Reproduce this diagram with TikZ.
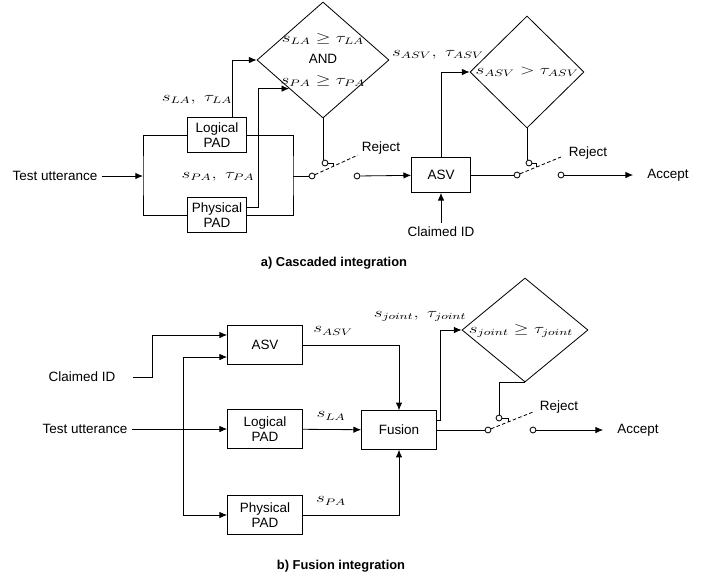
\documentclass[tikz,border=0pt]{standalone}
\usepackage{fontspec}
\setmainfont{Liberation Sans}
\usepackage{graphicx}
\usetikzlibrary{shapes.geometric,calc,arrows.meta}
\usetikzlibrary{positioning}
\newcommand{\wm}[1]{\scalebox{1.35}[1]{$#1$}}
\tikzset {
    block/.style = {draw, rectangle, minimum width=1.77cm, minimum height=1.05cm, align=center, inner sep=1pt},
    bigblock/.style = {block, minimum width=2.25cm, minimum height=1.16cm},
    decision/.style = {draw, diamond, inner sep=0pt},
    contact/.style = {draw, circle, fill=white, inner sep=0pt, minimum size=5pt},
    lever/.style = {densely dashed},
    caption/.style = {font=\fontsize{11}{13}\selectfont\bfseries}
}

\begin{document}
\begin{tikzpicture}[x=0.03cm, y=-0.03cm, >={Latex[length=6.5pt,width=5.5pt]}, line width=0.7pt, every node/.style={font=\fontsize{11.5}{13}\selectfont}]
	\useasboundingbox (0,0) rectangle (710,575);
	% a) cascaded
	\node (tu) at (55,176) {Test utterance};
	\coordinate (in1) at (143,176);
	\node[block] (la) at (217,135) {Logical\\PAD};
	\node[block] (pa) at (217,215) {Physical\\PAD};
	\node[decision, minimum width=3.96cm, minimum height=3.48cm] (d1) at (323,60) {};
	\node[align=center] (d1txt) at (d1) {\wm{s_{LA} \geq \tau_{LA}}\\[5pt]AND\\[5pt]\wm{s_{PA} \geq \tau_{PA}}};
	\coordinate (e1) at ($(d1.west)!0.49!(d1.south)$);
	\draw[->] (tu) -- (in1);
	\draw (la.west) -| (in1) |- (pa.west);
	\draw[->] ([xshift=0.47cm]la.north) |- (d1.west);
	\draw[->] ([yshift=0.24cm]pa.east) -- ++(11,0) |- (e1);
	\node (lbl1) at (197,100) {\wm{s_{LA},\; \tau_{LA}}};
	\node (lbl2) at (218,177) {\wm{s_{PA},\; \tau_{PA}}};
	\coordinate (j1) at (293,176);
	\draw (la.east) -| (j1) |- (pa.east);
	% switch 1
	\node[contact] (sw1l) at (312,176) {};
	\node[contact] (sw1r) at (357,176) {};
	\coordinate (lev1) at (358,155);
	\node[contact] (act1) at (325,163) {};
	\coordinate (h1) at ($(sw1l)!0.46!(lev1)$);
	\draw (j1) -- (sw1l);
	\draw[lever] (sw1l) -- (lev1);
	\draw (act1.east) -| (h1);
	\draw (d1.south) -- (d1.south |- act1.north);
	\node (rej1) at (381,148) {Reject};
	% ASV
	\node[block] (asv) at (441,175) {ASV};
	\draw[->] (sw1r) -- (asv);
	\node (cid) at (441,232) {Claimed ID};
	\draw[->] (cid) -- (asv);
	\node[decision, minimum width=3.42cm, minimum height=3.36cm] (d2) at (527,72) {};
	\node (d2txt) at (d2) {\wm{s_{ASV} > \tau_{ASV}}};
	\draw[->] (asv.north) |- (d2.west);
	\node (lbl3) at (438,55) {\wm{s_{ASV},\; \tau_{ASV}}};
	% switch 2
	\node[contact] (sw2l) at (517,175) {};
	\node[contact] (sw2r) at (561,175) {};
	\coordinate (lev2) at (561,157);
	\node[contact] (act2) at (529,163) {};
	\coordinate (h2) at ($(sw2l)!0.45!(lev2)$);
	\draw (asv) -- (sw2l);
	\draw[lever] (sw2l) -- (lev2);
	\draw (act2.east) -| (h2);
	\draw (d2.south) -- (d2.south |- act2.north);
	\node (rej2) at (588,153) {Reject};
	\node (acc1) at (668,175) {Accept};
	\draw[->] (sw2r) -- ([xshift=-0.3cm]acc1.west);
	\node[caption] (capa) at (334,263) {a) Cascaded integration};

	% b) fusion
	\node (cid2) at (82,377) {Claimed ID};
	\node (tu2) at (85,429) {Test utterance};
	\node[bigblock] (asv2) at (265,345) {ASV};
	\node[bigblock] (lp2) at (265,429) {Logical\\PAD};
	\node[bigblock] (pp2) at (265,515) {Physical\\PAD};
	\node[bigblock] (fus) at (399,430) {Fusion};
	\coordinate (c1) at (152,377);
	\coordinate (j2) at (183,429);
	\draw[->] ([xshift=0.4cm]cid2.east) -- (c1) |- ([yshift=0.3cm]asv2.west);
	\draw[->] (tu2) -- (lp2);
	\draw[->] (j2) |- ([yshift=-0.36cm]asv2.west);
	\draw[->] (j2) |- (pp2.west);
	\draw[->] (asv2) -| (fus);
	\draw[->] (lp2) -- (fus);
	\draw[->] (pp2) -| (fus);
	\node (lbl4) at (333,331) {\wm{s_{ASV}}};
	\node (lbl5) at (331,416) {\wm{s_{LA}}};
	\node (lbl6) at (331,501) {\wm{s_{PA}}};
	\node[decision, minimum width=3.78cm, minimum height=3.12cm] (d3) at (525,330) {};
	\node (d3txt) at (521,331) {\wm{s_{joint} \geq \tau_{joint}}};
	\draw[->] ([yshift=0.3cm]fus.east) -- ++(3,0) |- (d3.west);
	\node (lbl7) at (420,316) {\wm{s_{joint},\; \tau_{joint}}};
	% switch 3
	\node[contact] (sw3l) at (488,430) {};
	\node[contact] (sw3r) at (533,430) {};
	\coordinate (lev3) at (533,412);
	\node[contact] (act3) at (499,418) {};
	\coordinate (h3) at ($(sw3l)!0.45!(lev3)$);
	\draw (fus) -- (sw3l);
	\draw[lever] (sw3l) -- (lev3);
	\draw (act3.east) -| (h3);
	\draw (d3.south) -| (act3.north);
	\node (rej3) at (559,407) {Reject};
	\node (acc2) at (638,430) {Accept};
	\draw[->] (sw3r) -- ([xshift=-0.3cm]acc2.west);
	\node[caption] (capb) at (341,566) {b) Fusion integration};
\end{tikzpicture}
\end{document}
